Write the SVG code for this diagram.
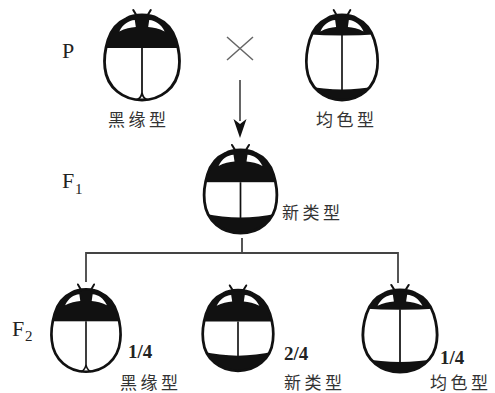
<svg xmlns="http://www.w3.org/2000/svg" xmlns:xlink="http://www.w3.org/1999/xlink" width="495" height="393" viewBox="0 0 495 393">
  <style>
    .shell { fill: #fff; stroke: none; }
    .rim { fill: none; stroke: #111; stroke-width: 2.8; stroke-linejoin: round; }
    .ink { fill: #111; }
    .spot { fill: #fff; }
    .suture { stroke: #111; stroke-width: 1.7; fill: none; }
    .antenna { stroke: #111; stroke-width: 2; stroke-linecap: round; fill: none; }
    .gen { font-family: "Liberation Serif", serif; font-size: 22px; fill: #222; }
    .sub { font-family: "Liberation Serif", serif; font-size: 15px; fill: #222; }
    .ratio { font-family: "Liberation Serif", serif; font-size: 19px; font-weight: bold; fill: #222; }
    .name { font-family: "Noto Sans CJK SC", sans-serif; font-size: 17px; letter-spacing: 3.5px; fill: #333; }
    .wire { stroke: #444; stroke-width: 1.8; fill: none; }
    .cross { stroke: #666; stroke-width: 1.5; fill: none; }
  </style>
  <defs>
    <!-- beetle silhouette, head on top, centred on the origin -->
    <path id="body" d="M0,-43 C7,-43 11,-42 15,-39.5 C23,-36 30,-28 33,-18 C36,-8 37,2 36,10 C34,30 18,42 0,42 C-18,42 -34,30 -36,10 C-37,2 -36,-8 -33,-18 C-30,-28 -23,-36 -15,-39.5 C-11,-42 -7,-43 0,-43 Z"/>
    <clipPath id="bodyClip"><use xlink:href="#body"/></clipPath>
    <!-- white crescents on the pronotum -->
    <g id="spots">
      <path class="spot" d="M-7,-38 C-13,-37.5 -18.5,-34 -22,-26.5 C-16.5,-29.5 -11,-30.5 -6,-31 Z"/>
      <path class="spot" d="M7,-38 C13,-37.5 18.5,-34 22,-26.5 C16.5,-29.5 11,-30.5 6,-31 Z"/>
    </g>
    <g id="antennae">
      <path class="antenna" d="M-5,-42 L-8.5,-48"/>
      <path class="antenna" d="M5,-42 L8.5,-48"/>
    </g>
    <!-- black-edged pattern: large dark front, split tips -->
    <g id="blackEdge">
      <use xlink:href="#body" class="shell"/>
      <g clip-path="url(#bodyClip)"><rect class="ink" x="-40" y="-50" width="80" height="40"/></g>
      <use xlink:href="#spots"/>
      <path class="suture" d="M0,-10 L0,35"/>
      <path class="suture" d="M-5,42 Q-1,40 0,35 Q1,40 5,42"/>
      <use xlink:href="#body" class="rim"/>
      <use xlink:href="#antennae"/>
    </g>
    <!-- new pattern: large dark front and dark rear band -->
    <g id="newType">
      <use xlink:href="#body" class="shell"/>
      <g clip-path="url(#bodyClip)">
        <rect class="ink" x="-40" y="-50" width="80" height="40"/>
        <path class="ink" d="M-40,21 Q0,31 40,21 L40,50 L-40,50 Z"/>
      </g>
      <use xlink:href="#spots"/>
      <path class="suture" d="M0,-10 L0,28"/>
      <use xlink:href="#body" class="rim"/>
      <use xlink:href="#antennae"/>
    </g>
    <!-- uniform pattern: narrow dark front and thin rear band -->
    <g id="uniform">
      <use xlink:href="#body" class="shell"/>
      <g clip-path="url(#bodyClip)">
        <path class="ink" d="M-40,-50 L40,-50 L40,-24 Q0,-21 -40,-24 Z"/>
        <path class="ink" d="M-40,27 Q0,36 40,27 L40,50 L-40,50 Z"/>
      </g>
      <use xlink:href="#spots"/>
      <path class="suture" d="M0,-23 L0,33"/>
      <use xlink:href="#body" class="rim"/>
      <use xlink:href="#antennae"/>
    </g>
  </defs>

  <rect width="495" height="393" fill="#fff"/>

  <!-- generation labels -->
  <g id="gen-p"><text class="gen" x="62" y="58">P</text></g>
  <g id="gen-f1"><text class="gen" x="62" y="188">F</text><text class="sub" x="75" y="194">1</text></g>
  <g id="gen-f2"><text class="gen" x="12" y="336">F</text><text class="sub" x="25" y="341">2</text></g>

  <!-- connectors -->
  <g id="connectors">
    <path class="cross" d="M227,37 L253,60 M253,37 L227,60"/>
    <path d="M240,80 L240,121" stroke="#333" stroke-width="1.5"/>
    <path d="M233.5,119 L240,124 L246.5,119 L240,138 Z" fill="#111"/>
    <path class="wire" d="M242,238 L242,253 M86,253 L398,253 M86,252 L86,282 M398,252 L398,283"/>
  </g>

  <!-- parents -->
  <g id="parent-black-edge">
    <use xlink:href="#blackEdge" transform="translate(142,58) scale(1.03,1)"/>
    <text class="name" x="108" y="126">黑缘型</text>
  </g>
  <g id="parent-uniform">
    <use xlink:href="#uniform" transform="translate(342,58) scale(0.98,1)"/>
    <text class="name" x="316" y="126">均色型</text>
  </g>

  <!-- F1 -->
  <g id="f1-new">
    <use xlink:href="#newType" transform="translate(240.5,192) scale(1.0,0.98)"/>
    <text class="name" x="282" y="219">新类型</text>
  </g>

  <!-- F2 -->
  <g id="f2-black-edge">
    <use xlink:href="#blackEdge" transform="translate(86,331) scale(0.95,0.97)"/>
    <text class="ratio" x="128" y="358">1/4</text>
    <text class="name" x="120" y="389">黑缘型</text>
  </g>
  <g id="f2-new">
    <use xlink:href="#newType" transform="translate(238,331) scale(0.97,0.95)"/>
    <text class="ratio" x="284" y="360">2/4</text>
    <text class="name" x="284" y="389">新类型</text>
  </g>
  <g id="f2-uniform">
    <use xlink:href="#uniform" transform="translate(400,331.5) scale(1.02,0.97)"/>
    <text class="ratio" x="440" y="364">1/4</text>
    <text class="name" x="430" y="389">均色型</text>
  </g>
</svg>
